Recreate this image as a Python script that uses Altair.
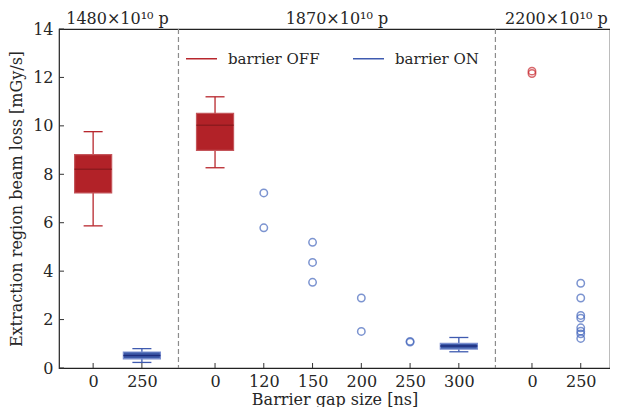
import altair as alt
import pandas as pd

# ---------------- data ----------------
group_labels = ["1480×10¹⁰ p", "1870×10¹⁰ p", "2200×10¹⁰ p"]
group_gaps = [[0, 250], [0, 120, 150, 200, 250, 300], [0, 250]]

# box summaries (group index, gap, state, low whisker, q1, median, q3, high whisker)
box_group = [0, 0, 1, 1]
box_gap = [0, 250, 0, 300]
box_state = ["barrier OFF", "barrier ON", "barrier OFF", "barrier ON"]
box_low = [5.87, 0.23, 8.27, 0.67]
box_q1 = [7.23, 0.38, 8.99, 0.78]
box_med = [8.21, 0.52, 10.02, 0.91]
box_q3 = [8.81, 0.66, 10.52, 1.02]
box_high = [9.76, 0.80, 11.20, 1.26]

# individual measurements
pt_group = [1, 1, 1, 1, 1, 1, 1, 1, 1,
            2, 2,
            2, 2, 2, 2, 2, 2, 2, 2]
pt_gap = [120, 120, 150, 150, 150, 200, 200, 250, 250,
          0, 0,
          250, 250, 250, 250, 250, 250, 250, 250]
pt_state = ["barrier ON"] * 9 + ["barrier OFF"] * 2 + ["barrier ON"] * 8
pt_value = [7.23, 5.79, 5.19, 4.36, 3.54, 2.89, 1.51, 1.07, 1.10,
            12.26, 12.16,
            3.50, 2.89, 2.17, 2.06, 1.66, 1.52, 1.41, 1.22]

# ---------------- layout helpers ----------------
GROUP_SKIP = 1.5
positions = {}
starts = []
cur = 0.0
for gi, gaps in enumerate(group_gaps):
    starts.append(cur)
    for k, g in enumerate(gaps):
        positions[(gi, g)] = cur + k
    cur = cur + len(gaps) - 1 + GROUP_SKIP
tick_pos = [positions[(gi, g)] for gi, gaps in enumerate(group_gaps) for g in gaps]
tick_lab = [str(g) for gaps in group_gaps for g in gaps]
label_map = "{" + ",".join(f'"{p:g}":"{l}"' for p, l in zip(tick_pos, tick_lab)) + "}"
centers = [(starts[gi] + starts[gi] + len(g) - 1) / 2 for gi, g in enumerate(group_gaps)]
seps = [(starts[gi] + len(group_gaps[gi]) - 1 + starts[gi + 1]) / 2 for gi in range(len(group_gaps) - 1)]

BOX_HALF = 0.38
CAP_HALF = 0.195

FILL = {"barrier OFF": "#b22228", "barrier ON": "#3d5aa8"}
EDGE = {"barrier OFF": "#c4555a", "barrier ON": "#7b8fd0"}
MED = {"barrier OFF": "#8e1a1e", "barrier ON": "#1d2c7c"}
PT = {"barrier OFF": "#c8282e", "barrier ON": "#4567bd"}
LEG = ["#b8272d", "#3f5bb0"]

boxes = pd.DataFrame({
    "pos": [positions[(g, x)] for g, x in zip(box_group, box_gap)],
    "state": box_state, "low": box_low, "q1": box_q1, "med": box_med,
    "q3": box_q3, "high": box_high,
})
boxes["left"] = boxes["pos"] - BOX_HALF
boxes["right"] = boxes["pos"] + BOX_HALF
boxes["cl"] = boxes["pos"] - CAP_HALF
boxes["cr"] = boxes["pos"] + CAP_HALF
boxes["fillc"] = boxes["state"].map(FILL)
boxes["edgec"] = boxes["state"].map(EDGE)
boxes["medc"] = boxes["state"].map(MED)

pts = pd.DataFrame({
    "pos": [positions[(g, x)] for g, x in zip(pt_group, pt_gap)],
    "state": pt_state, "value": pt_value,
})
pts["c"] = pts["state"].map(PT)

FONT = "DejaVu Serif"
TXT = "#262626"
H = 339

xscale = alt.Scale(domain=[-0.7, 10.6], nice=False, zero=False)
yscale = alt.Scale(domain=[0, 14], nice=False)

xaxis = alt.Axis(values=tick_pos, labelExpr=f"{label_map}[''+datum.value]",
                 title="Barrier gap size [ns]", grid=False, ticks=False,
                 domain=False, labelPadding=5, titlePadding=2)
yaxis = alt.Axis(values=list(range(0, 15, 2)), title="Extraction region beam loss [mGy/s]",
                 grid=False, ticks=False, domain=False, labelPadding=6, titlePadding=8)

base = alt.Chart(boxes)

whisk = base.mark_rule(strokeWidth=1.3).encode(
    x=alt.X("pos:Q", scale=xscale, axis=xaxis),
    y=alt.Y("low:Q", scale=yscale, axis=yaxis),
    y2="high:Q",
    stroke=alt.Stroke("state:N", scale=alt.Scale(domain=["barrier OFF", "barrier ON"], range=LEG),
                      legend=alt.Legend(orient="none", legendX=126, legendY=13, direction="horizontal",
                                        title=None, symbolType="stroke", symbolSize=961,
                                        symbolStrokeWidth=1.5, labelFont=FONT, labelFontSize=15,
                                        labelColor=TXT, labelOffset=10, columnPadding=30)),
)
caps_low = base.mark_rule(strokeWidth=1.3).encode(
    x="cl:Q", x2="cr:Q", y="low:Q", stroke=alt.Stroke("state:N", legend=None))
caps_high = base.mark_rule(strokeWidth=1.3).encode(
    x="cl:Q", x2="cr:Q", y="high:Q", stroke=alt.Stroke("state:N", legend=None))
box = base.mark_rect(strokeWidth=1.2).encode(
    x="left:Q", x2="right:Q", y="q1:Q", y2="q3:Q",
    fill=alt.Fill("fillc:N", scale=None), stroke=alt.Stroke("edgec:N", scale=None))
med = base.mark_rule(strokeWidth=1.5).encode(
    x="left:Q", x2="right:Q", y="med:Q", stroke=alt.Stroke("medc:N", scale=None))

points = alt.Chart(pts).mark_point(filled=False, size=55, strokeWidth=1.5).encode(
    x="pos:Q", y="value:Q", stroke=alt.Stroke("c:N", scale=None))

sep_df = pd.DataFrame({"pos": seps})
sep = alt.Chart(sep_df).mark_rule(color="#8c8c8c", strokeDash=[5, 3], strokeWidth=1.2).encode(x="pos:Q")

grp_df = pd.DataFrame({"pos": centers, "label": group_labels})
grp = alt.Chart(grp_df).mark_text(font=FONT, fontSize=16, color=TXT, baseline="alphabetic").encode(
    x="pos:Q", y=alt.value(-5), text="label:N")

xt_df = pd.DataFrame({"pos": tick_pos})
xticks = alt.Chart(xt_df).mark_rule(color="#333", strokeWidth=1).encode(
    x="pos:Q", y=alt.value(H), y2=alt.value(H - 5))
yt_df = pd.DataFrame({"v": list(range(0, 15, 2))})
yticks = alt.Chart(yt_df).mark_rule(color="#333", strokeWidth=1).encode(
    y="v:Q", x=alt.value(0), x2=alt.value(5))

chart = alt.layer(sep, whisk, caps_low, caps_high, box, med, points, xticks, yticks, grp).properties(
    width=551, height=H, autosize="none",
    padding={"left": 51, "top": 21, "right": 0, "bottom": 39},
).configure_view(stroke="#222", strokeWidth=1.2).configure_axis(
    labelFont=FONT, labelFontSize=16, labelColor=TXT, titleFont=FONT, titleFontSize=16,
    titleColor=TXT, titleFontWeight="normal",
)

chart.save("out.html", embed_options={"renderer": "svg", "actions": False})
